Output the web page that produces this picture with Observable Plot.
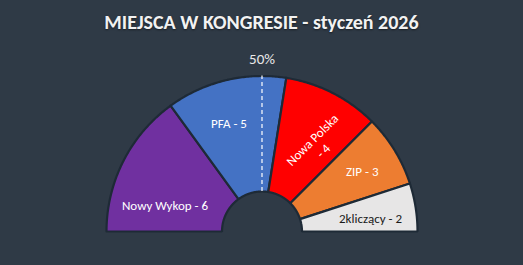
<!DOCTYPE html>
<html>
<head>
<meta charset="utf-8">
<script src="https://cdn.jsdelivr.net/npm/d3@7"></script>
<script src="https://cdn.jsdelivr.net/npm/@observablehq/plot@0.6"></script>
<style>
  html, body { margin: 0; padding: 0; background: #2f3a46; width: 523px; height: 265px; overflow: hidden; }
  #title { height: 44px; line-height: 44px; text-align: center; color: #f2f2f2; font-family: Carlito, Lato, sans-serif; font-weight: bold; font-size: 20px; text-shadow: 0 1px 2px rgba(0,0,0,0.5); }
  #chart svg { display: block; }
</style>
</head>
<body>
<div id="title">MIEJSCA W KONGRESIE - styczeń 2026</div>
<div id="chart"></div>
<script>
// ---- data ----
const parties = ["Nowy Wykop", "PFA", "Nowa Polska", "ZIP", "2kliczący"];
const seats = [6, 5, 4, 3, 2];
const colors = ["#7030a0", "#4472c4", "#ff0000", "#ed7d31", "#e7e6e6"];
const labels = ["Nowy Wykop - 6", "PFA - 5", "Nowa Polska\n- 4", "ZIP - 3", "2kliczący - 2"];
const majorityLabel = "50%";

// ---- layout (not data) ----
const labelColors = ["#ffffff", "#ffffff", "#ffffff", "#ffffff", "#1a1a1a"];
const labelRotate = [0, 0, -45, 0, 0];
const labelNudge = [[0, 23], [-7.6, -2.4], [6, 10.5], [7.4, -4], [1, 3.7]]; // px
const R = 155.5, cx = 261.5, cy = 187, innerFrac = 40 / 155.5, labelFrac = 0.7;

const total = d3.sum(seats);
let acc = 0;
const slices = parties.map((p, i) => {
  const a0 = Math.PI * (1 - acc / total);
  acc += seats[i];
  const a1 = Math.PI * (1 - acc / total);
  return { party: p, a0, a1, color: colors[i], i };
});

const pts = [];
for (const s of slices) {
  const n = 80;
  const ring = [];
  for (let k = 0; k <= n; k++) {
    const a = s.a0 + (s.a1 - s.a0) * k / n;
    ring.push([Math.cos(a), Math.sin(a)]);
  }
  for (let k = n; k >= 0; k--) {
    const a = s.a0 + (s.a1 - s.a0) * k / n;
    ring.push([innerFrac * Math.cos(a), innerFrac * Math.sin(a)]);
  }
  ring.push(ring[0]);
  for (const [x, y] of ring) pts.push({ party: s.party, color: s.color, x, y });
}

const labelData = slices.map(s => {
  const m = (s.a0 + s.a1) / 2;
  const [ndx, ndy] = labelNudge[s.i];
  return {
    text: labels[s.i],
    x: labelFrac * Math.cos(m) + ndx / R,
    y: labelFrac * Math.sin(m) - ndy / R,
    fill: labelColors[s.i],
    rotate: labelRotate[s.i]
  };
});

const plot = Plot.plot({
  width: 523,
  height: 221,
  margin: 0,
  x: { domain: [-1, 1], range: [cx - R, cx + R], axis: null },
  y: { domain: [0, 1], range: [cy, cy - R], axis: null },
  style: { background: "transparent", fontFamily: "Carlito, Lato, sans-serif" },
  marks: [
    Plot.line(pts, { x: "x", y: "y", z: "party", fill: "color", stroke: "#1e2a36", strokeWidth: 2.2, curve: "linear", strokeLinejoin: "miter" }),
    Plot.ruleX([0], { y1: innerFrac, y2: 1, stroke: "#ffffff", strokeWidth: 1.2, strokeDasharray: "4,3" }),
    Plot.text([majorityLabel], { x: 0, y: 1.106, text: d => d, fill: "#e8e8e8", fontSize: 15 }),
    Plot.text(labelData, { x: "x", y: "y", text: "text", fill: "fill", rotate: "rotate", fontSize: 13, lineHeight: 1.2 })
  ]
});
document.getElementById("chart").appendChild(plot);
</script>
</body>
</html>
